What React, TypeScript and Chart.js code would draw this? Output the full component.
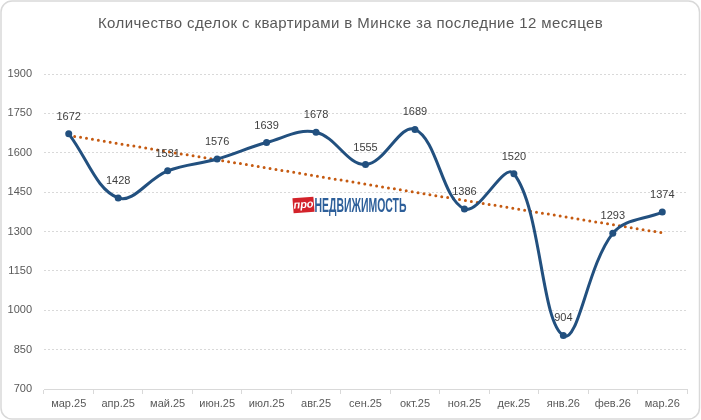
import React, { useEffect, useRef } from "react";
import { Chart, registerables } from "chart.js";

Chart.register(...registerables);

const TITLE = "Количество сделок с квартирами в Минске за последние 12 месяцев";
const months = ["мар.25", "апр.25", "май.25", "июн.25", "июл.25", "авг.25", "сен.25", "окт.25", "ноя.25", "дек.25", "янв.26", "фев.26", "мар.26"];
const deals = [1672, 1428, 1531, 1576, 1639, 1678, 1555, 1689, 1386, 1520, 904, 1293, 1374];
// linear trend line: read at first and last month
const trendStart = 1666;
const trendEnd = 1295;
const trend = months.map((_, i) => (i === 0 ? trendStart : i === months.length - 1 ? trendEnd : null));
const yMin = 700;
const yMax = 1900;
const yStep = 150;

const FONT = "'Liberation Sans', Arial, sans-serif";
const TEXT = "#595959";

const framePlugin = {
  id: "frame",
  beforeDraw(chart: any) {
    const { ctx, width, height } = chart;
    ctx.save();
    ctx.fillStyle = "#ffffff";
    ctx.fillRect(0, 0, width, height);
    ctx.strokeStyle = "#d9d9d9";
    ctx.lineWidth = 1.5;
    ctx.beginPath();
    ctx.roundRect(1, 1, width - 2.5, height - 2, 11);
    ctx.stroke();
    ctx.fillStyle = TEXT;
    ctx.font = `15px ${FONT}`;
    (ctx as any).letterSpacing = "0.4px";
    ctx.textAlign = "center";
    ctx.textBaseline = "middle";
    ctx.fillText(TITLE, width / 2, 24);
    ctx.restore();
  },
  beforeDatasetsDraw(chart: any) {
    const { ctx, chartArea } = chart;
    const cx = (chartArea.left + chartArea.right) / 2;
    const cy = chartArea.top + 131;
    ctx.save();
    // red badge "про"
    ctx.translate(cx - 62, cy);
    ctx.rotate(-0.08);
    ctx.fillStyle = "#d3222a";
    ctx.fillRect(-10.5, -7.5, 21, 15);
    ctx.fillStyle = "#ffffff";
    ctx.font = `italic bold 11px ${FONT}`;
    ctx.textAlign = "center";
    ctx.textBaseline = "middle";
    ctx.fillText("про", 0, 0);
    ctx.restore();
    ctx.save();
    ctx.font = `bold 20px 'Liberation Sans Narrow', ${FONT}`;
    const w = ctx.measureText("НЕДВИЖИМОСТЬ").width;
    ctx.translate(cx - 51, cy);
    ctx.scale(92 / w, 1);
    ctx.fillStyle = "#2d5f9a";
    ctx.textAlign = "left";
    ctx.textBaseline = "middle";
    ctx.fillText("НЕДВИЖИМОСТЬ", 0, 1);
    ctx.restore();
  },
  afterDatasetsDraw(chart: any) {
    const { ctx } = chart;
    const meta = chart.getDatasetMeta(0);
    ctx.save();
    ctx.fillStyle = "#404040";
    ctx.font = `11px ${FONT}`;
    ctx.textAlign = "center";
    ctx.textBaseline = "middle";
    meta.data.forEach((pt: any, i: number) => {
      ctx.fillText(String(deals[i]), pt.x, pt.y - 17);
    });
    ctx.restore();
  },
};

export default function App() {
  const ref = useRef<HTMLCanvasElement | null>(null);
  useEffect(() => {
    document.body.style.margin = "0";
    const chart = new Chart(ref.current as HTMLCanvasElement, {
      type: "line",
      data: {
        labels: months,
        datasets: [
          {
            data: deals,
            borderColor: "#22507f",
            backgroundColor: "#22507f",
            borderWidth: 3,
            tension: 0.38,
            pointRadius: 3.5,
            pointBorderWidth: 0,
            pointBackgroundColor: "#22507f",
          },
          {
            data: trend,
            spanGaps: true,
            borderColor: "#c55a11",
            borderWidth: 3,
            borderDash: [0, 6],
            borderCapStyle: "round",
            pointRadius: 0,
            tension: 0,
          },
        ],
      },
      options: {
        animation: false,
        responsive: false,
        events: [],
        layout: { padding: { top: 74, right: 14, bottom: 0, left: 0 } },
        plugins: { legend: { display: false }, tooltip: { enabled: false }, title: { display: false } },
        scales: {
          x: {
            offset: true,
            grid: { display: true, offset: true, drawOnChartArea: false, drawTicks: true, tickLength: 5, color: "#d9d9d9" },
            border: { display: true, color: "#d9d9d9", width: 1 },
            ticks: { color: TEXT, font: { family: FONT, size: 11 }, padding: 3, maxRotation: 0, autoSkip: false },
            afterFit: (s: any) => {
              s.height = 31;
            },
          },
          y: {
            min: yMin,
            max: yMax,
            ticks: {
              stepSize: yStep,
              color: TEXT,
              font: { family: FONT, size: 11 },
              padding: 12,
              callback: (v: any) => String(v),
            },
            grid: { color: "#d9d9d9", drawTicks: false, lineWidth: 1 },
            border: { display: false, dash: [2, 2] },
            afterFit: (s: any) => {
              s.width = 44;
            },
          },
        },
      },
      plugins: [framePlugin],
    });
    return () => chart.destroy();
  }, []);
  return (
    <div style={{ width: 701, height: 420 }}>
      <canvas ref={ref} width={701} height={420} style={{ display: "block" }} />
    </div>
  );
}
